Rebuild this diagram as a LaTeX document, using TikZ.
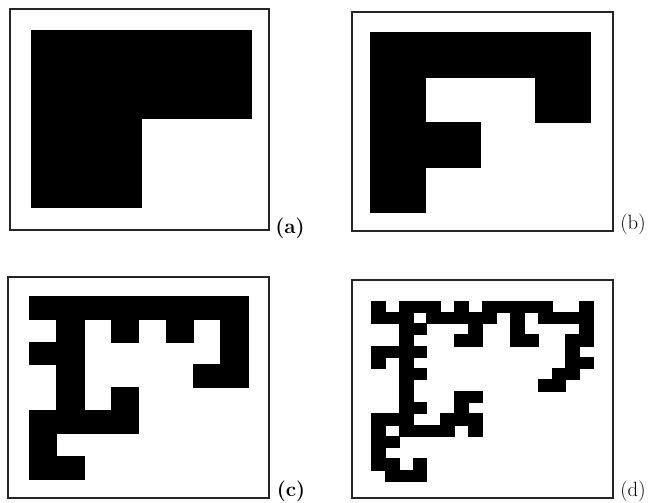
\documentclass[tikz,border=0pt]{standalone}
\begin{document}
\tikzset{
  frame/.style={draw=black!85, line width=0.8pt},
  cell/.style={fill=black, draw=black, line width=0.25pt},
  lab/.style={font=\fontsize{15.5}{18}\selectfont, anchor=center, inner sep=0pt}
}
% #1 x0, #2 y0, #3 w, #4 h, #5 row, #6 list of columns
\newcommand\pxrow[6]{\foreach \cc in {#6}{\fill[cell] ({#1+\cc*#3},{#2+#5*#4}) rectangle ++(#3,#4);}}
\begin{tikzpicture}[x=0.75pt,y=-0.75pt]
\useasboundingbox (0,0) rectangle (653,503);
% frames
\draw[frame] (10,9) rectangle (269,230);
\draw[frame] (352,12) rectangle (613,231);
\draw[frame] (8,277) rectangle (269,498);
\draw[frame] (352,280) rectangle (613,498);
% (a)
\pxrow{31}{30}{110}{88.5}{0}{0,1}
\pxrow{31}{30}{110}{88.5}{1}{0}
% (b)
\pxrow{370}{32}{55}{45}{0}{0,1,2,3}
\pxrow{370}{32}{55}{45}{1}{0,3}
\pxrow{370}{32}{55}{45}{2}{0,1}
\pxrow{370}{32}{55}{45}{3}{0}
% (c)
\pxrow{29}{296}{27.375}{22.875}{0}{0,1,2,3,4,5,6,7}
\pxrow{29}{296}{27.375}{22.875}{1}{1,3,5,7}
\pxrow{29}{296}{27.375}{22.875}{2}{0,1,7}
\pxrow{29}{296}{27.375}{22.875}{3}{1,6,7}
\pxrow{29}{296}{27.375}{22.875}{4}{1,3}
\pxrow{29}{296}{27.375}{22.875}{5}{0,1,2,3}
\pxrow{29}{296}{27.375}{22.875}{6}{0}
\pxrow{29}{296}{27.375}{22.875}{7}{0,1}
% (d)
\pxrow{371}{300.7}{13.9}{11.27}{0}{0,2,3,4,6,8,9,10,11,12,15}
\pxrow{371}{300.7}{13.9}{11.27}{1}{0,1,2,4,5,6,7,8,10,12,13,14,15}
\pxrow{371}{300.7}{13.9}{11.27}{2}{2,3,7,10,15}
\pxrow{371}{300.7}{13.9}{11.27}{3}{2,6,7,10,11,14,15}
\pxrow{371}{300.7}{13.9}{11.27}{4}{0,1,2,3,14}
\pxrow{371}{300.7}{13.9}{11.27}{5}{0,2,14,15}
\pxrow{371}{300.7}{13.9}{11.27}{6}{2,3,13,14}
\pxrow{371}{300.7}{13.9}{11.27}{7}{2,12,13}
\pxrow{371}{300.7}{13.9}{11.27}{8}{2,6,7}
\pxrow{371}{300.7}{13.9}{11.27}{9}{2,3,6}
\pxrow{371}{300.7}{13.9}{11.27}{10}{0,1,2,5,6,7}
\pxrow{371}{300.7}{13.9}{11.27}{11}{0,2,3,4,5,7}
\pxrow{371}{300.7}{13.9}{11.27}{12}{0,1}
\pxrow{371}{300.7}{13.9}{11.27}{13}{0}
\pxrow{371}{300.7}{13.9}{11.27}{14}{0,1,3}
\pxrow{371}{300.7}{13.9}{11.27}{15}{1,2,3}
% labels
\node[lab] (la) at (290,228) {\textbf{(a)}};
\node[lab] (lb) at (633,224) {(b)};
\node[lab] (lc) at (291,491) {\textbf{(c)}};
\node[lab] (ld) at (633,491) {(d)};
\end{tikzpicture}
\end{document}
